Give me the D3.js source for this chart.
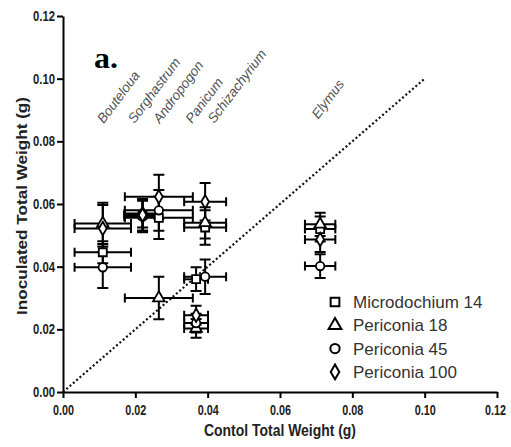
<!DOCTYPE html>
<html>
<head>
<meta charset="utf-8">
<script src="https://cdn.jsdelivr.net/npm/d3@7"></script>
<style>
  body { margin: 0; background: #fff; }
  .axis path, .axis line { stroke: #000; stroke-width: 2; }
  .axis text { font-family: "Liberation Sans", Arial, sans-serif; font-weight: bold; font-size: 14px; fill: #222; }
</style>
</head>
<body>
<svg id="chart"></svg>
<script>
// data
const species = ["Bouteloua", "Sorghastrum", "Andropogon", "Panicum", "Schizachyrium", "Elymus"];
const controlMean = [0.0110, 0.0220, 0.0265, 0.0368, 0.0393, 0.0711];
const controlErr = [0.0078, 0.0050, 0.0094, 0.0033, 0.0058, 0.0042];

const strains = ["Microdochium 14", "Periconia 18", "Periconia 45", "Periconia 100"];
const m14Mean = [0.0446, 0.0565, 0.0556, 0.0360, 0.0525, 0.0520];
const m14Err = [0.0035, 0.0050, 0.0068, 0.0038, 0.0055, 0.0040];
const p18Mean = [0.0538, 0.0570, 0.0300, 0.0203, 0.0540, 0.0535];
const p18Err = [0.0066, 0.0045, 0.0068, 0.0030, 0.0050, 0.0037];
const p45Mean = [0.0398, 0.0560, 0.0580, 0.0220, 0.0368, 0.0402];
const p45Err = [0.0066, 0.0050, 0.0065, 0.0030, 0.0055, 0.0038];
const p100Mean = [0.0522, 0.0565, 0.0623, 0.0245, 0.0607, 0.0487];
const p100Err = [0.0075, 0.0050, 0.0070, 0.0030, 0.0060, 0.0040];

const ticks = [0, 0.02, 0.04, 0.06, 0.08, 0.10, 0.12];
const oneToOne = [0, 0.10];

// layout
const W = 511, H = 447;
const margin = {top: 16, right: 14, bottom: 55, left: 63};
const width = W - margin.left - margin.right;
const height = H - margin.top - margin.bottom;

const svg = d3.select("#chart").attr("width", W).attr("height", H);
const g = svg.append("g").attr("transform", "translate(" + margin.left + "," + margin.top + ")");

const x = d3.scaleLinear().domain([0, 0.12]).range([0, width]);
const y = d3.scaleLinear().domain([0, 0.12]).range([height, 0]);

const xAxis = g.append("g")
  .attr("class", "axis")
  .attr("transform", "translate(0," + height + ")")
  .call(d3.axisBottom(x).tickValues(ticks).tickFormat(d3.format(".2f")).tickSize(6).tickSizeOuter(0).tickPadding(7));

const yAxis = g.append("g")
  .attr("class", "axis")
  .call(d3.axisLeft(y).tickValues(ticks).tickFormat(d3.format(".2f")).tickSize(6).tickSizeOuter(0).tickPadding(2));

// squeeze the bold tick labels to the narrow look of the original
xAxis.selectAll("text").attr("textLength", 21).attr("lengthAdjust", "spacingAndGlyphs")
  .attr("dx", d => d === 0.12 ? -2 : 0);
yAxis.selectAll("text").attr("textLength", 22).attr("lengthAdjust", "spacingAndGlyphs");

// axis titles
svg.append("text")
  .attr("x", 280).attr("y", 436)
  .attr("text-anchor", "middle")
  .attr("textLength", 152).attr("lengthAdjust", "spacingAndGlyphs")
  .style("font-family", "'Liberation Sans', Arial, sans-serif")
  .style("font-weight", "bold").style("font-size", "17px").attr("fill", "#222")
  .text("Contol Total Weight (g)");

svg.append("text")
  .attr("transform", "translate(27,206) rotate(-90)")
  .attr("text-anchor", "middle")
  .attr("textLength", 218).attr("lengthAdjust", "spacingAndGlyphs")
  .style("font-family", "'Liberation Sans', Arial, sans-serif")
  .style("font-weight", "bold").style("font-size", "15px").attr("fill", "#222")
  .text("Inoculated Total Weight (g)");

// panel letter
svg.append("text")
  .attr("x", 94).attr("y", 68)
  .attr("textLength", 24).attr("lengthAdjust", "spacingAndGlyphs")
  .style("font-family", "'Liberation Serif', 'Times New Roman', serif")
  .style("font-weight", "bold").style("font-size", "30px")
  .text("a.");

// 1:1 line
g.append("line")
  .attr("x1", x(oneToOne[0])).attr("y1", y(oneToOne[0]))
  .attr("x2", x(oneToOne[1])).attr("y2", y(oneToOne[1]))
  .attr("stroke", "#111").attr("stroke-width", 2.2)
  .attr("stroke-dasharray", "2,2.4");

// species labels
const labelNudge = [1, -8, 1, -4, 9, -2];
g.selectAll(".species")
  .data(species)
  .enter().append("text")
  .attr("class", "species")
  .attr("transform", (d, i) => "translate(" + (x(controlMean[i]) + labelNudge[i]) + "," + (y(i === 5 ? 0.087 : 0.0855)) + ") rotate(-53)")
  .style("font-family", "'Liberation Sans', Arial, sans-serif")
  .style("font-style", "italic").style("font-size", "13.5px")
  .attr("fill", "#505050")
  .text(d => d);

// points
const means = [m14Mean, p18Mean, p45Mean, p100Mean];
const errs = [m14Err, p18Err, p45Err, p100Err];
const shapes = [d3.symbolSquare, d3.symbolTriangle, d3.symbolCircle, d3.symbolDiamond];
const sizes = [64, 58, 56, 52];

const points = [];
strains.forEach((s, k) => {
  species.forEach((sp, i) => {
    points.push({strain: k, cx: controlMean[i], cxe: controlErr[i], cy: means[k][i], cye: errs[k][i]});
  });
});

const bars = g.append("g").attr("stroke", "#000").attr("stroke-width", 2).attr("fill", "none");
const capV = 5.5, capH = 4.5;
points.forEach(p => {
  const px = x(p.cx), py = y(p.cy);
  const xl = x(p.cx - p.cxe), xr = x(p.cx + p.cxe);
  const yt = y(p.cy + p.cye), yb = y(p.cy - p.cye);
  bars.append("path").attr("d",
    "M" + xl + "," + py + "H" + xr +
    "M" + xl + "," + (py - capH) + "V" + (py + capH) +
    "M" + xr + "," + (py - capH) + "V" + (py + capH) +
    "M" + px + "," + yt + "V" + yb +
    "M" + (px - capV) + "," + yt + "H" + (px + capV) +
    "M" + (px - capV) + "," + yb + "H" + (px + capV));
});

g.selectAll(".pt")
  .data(points)
  .enter().append("path")
  .attr("class", "pt")
  .attr("transform", d => "translate(" + x(d.cx) + "," + y(d.cy) + ")")
  .attr("d", d => d3.symbol().type(shapes[d.strain]).size(sizes[d.strain])())
  .attr("fill", "#fff").attr("stroke", "#000").attr("stroke-width", 1.8);

// legend
const legend = svg.append("g").attr("transform", "translate(335,302)");
const rows = legend.selectAll("g").data(strains).enter().append("g")
  .attr("transform", (d, i) => "translate(0," + i * 23.3 + ")");
rows.append("path")
  .attr("d", (d, i) => d3.symbol().type(shapes[i]).size(sizes[i] + 12)())
  .attr("fill", "#fff").attr("stroke", "#000").attr("stroke-width", 2);
rows.append("text")
  .attr("x", 18).attr("y", 6)
  .style("font-family", "'Liberation Sans Narrow', 'Arial Narrow', 'Liberation Sans', Arial, sans-serif")
  .style("font-size", "17px").attr("fill", "#333")
  .text(d => d);
</script>
</body>
</html>
